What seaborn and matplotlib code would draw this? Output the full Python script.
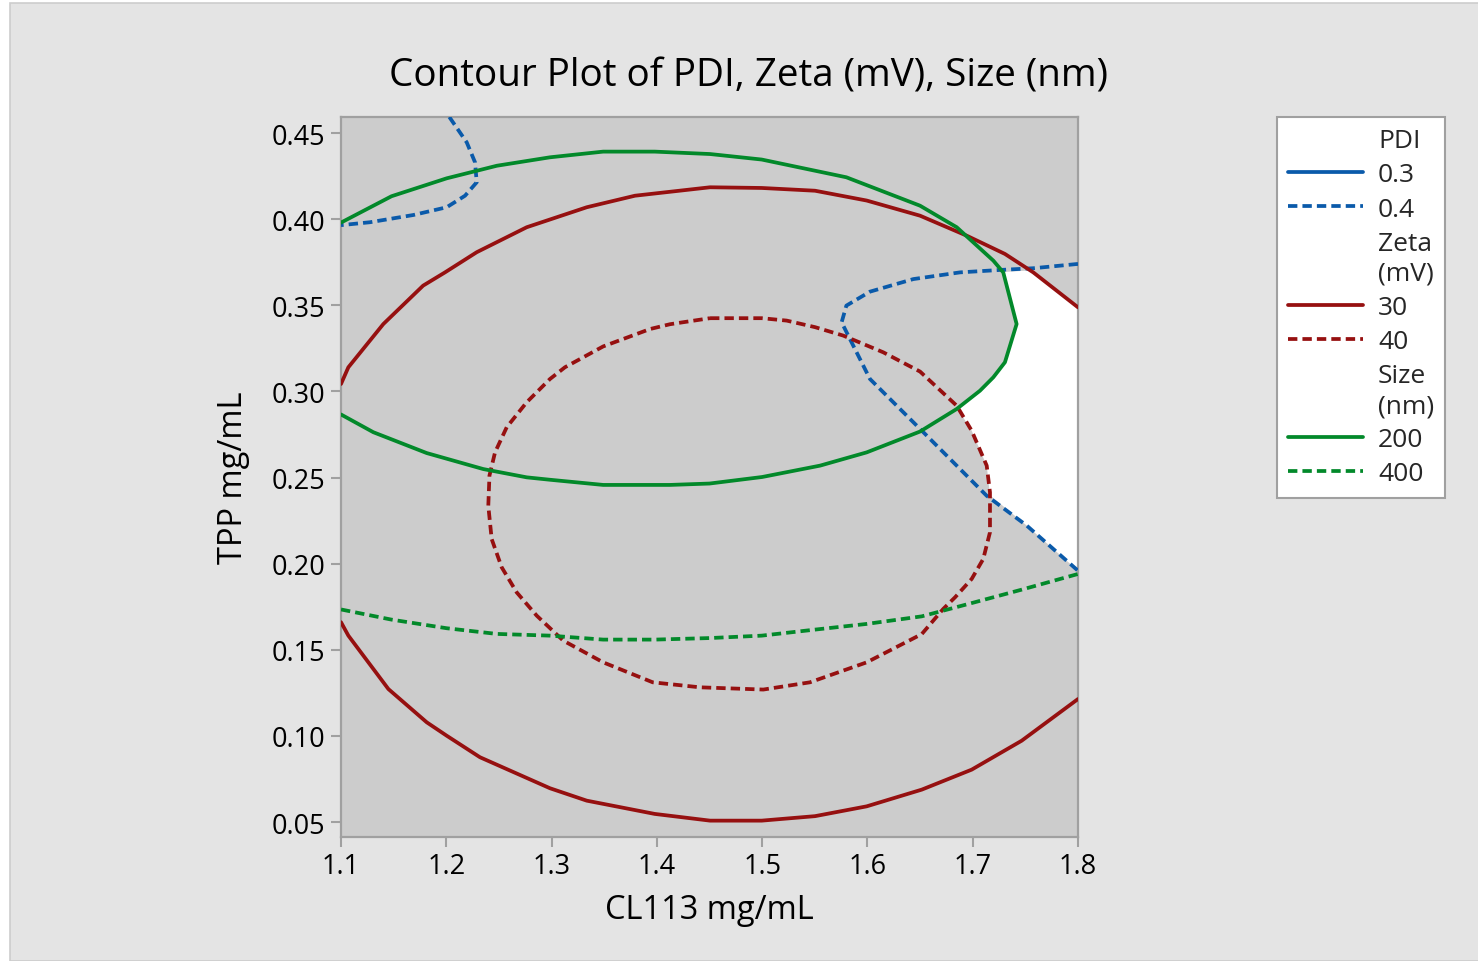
import numpy as np
import pandas as pd
import matplotlib
matplotlib.use("Agg")
import matplotlib.pyplot as plt
from matplotlib.lines import Line2D
from matplotlib.patches import Rectangle
import seaborn as sns

# ---------------- data ----------------
# PDI = 0.4 contour (two pieces)
pdi04_a_x = [1.2029, 1.2194, 1.2273, 1.2289, 1.2178, 1.2004, 1.1687, 1.1275, 1.1000]
pdi04_a_y = [0.4593, 0.4446, 0.4330, 0.4214, 0.4136, 0.4069, 0.4024, 0.3982, 0.3965]
pdi04_b_x = [1.8000, 1.7575, 1.7260, 1.6880, 1.6436, 1.6024, 1.5800, 1.5755, 1.5834,
             1.6024, 1.6500, 1.7133, 1.7513, 1.8000]
pdi04_b_y = [0.3740, 0.3715, 0.3705, 0.3691, 0.3652, 0.3579, 0.3498, 0.3401, 0.3304,
             0.3072, 0.2782, 0.2394, 0.2221, 0.1959]

# Zeta = 30 contour (two pieces)
zeta30_a_x = [1.1000, 1.1070, 1.1402, 1.1780, 1.1988, 1.2289, 1.2764, 1.3334, 1.3792,
              1.4505, 1.4996, 1.5502, 1.5993, 1.6500, 1.6943, 1.7306, 1.7575, 1.8000]
zeta30_a_y = [0.3043, 0.3140, 0.3391, 0.3614, 0.3691, 0.3808, 0.3953, 0.4069, 0.4136,
              0.4185, 0.4181, 0.4165, 0.4108, 0.4020, 0.3904, 0.3798, 0.3691, 0.3488]
zeta30_b_x = [1.1000, 1.1070, 1.1450, 1.1814, 1.2004, 1.2320, 1.2985, 1.3334, 1.3980,
              1.4505, 1.4996, 1.5502, 1.5993, 1.6516, 1.6990, 1.7465, 1.8000]
zeta30_b_y = [0.1660, 0.1582, 0.1272, 0.1079, 0.1001, 0.0876, 0.0696, 0.0624, 0.0547,
              0.0508, 0.0508, 0.0534, 0.0591, 0.0688, 0.0804, 0.0972, 0.1214]

# Zeta = 40 contour (closed)
zeta40_x = [1.4505, 1.4996, 1.5233, 1.5502, 1.5770, 1.6150, 1.6500, 1.6848, 1.6990,
            1.7133, 1.7164, 1.7164, 1.7100, 1.6990, 1.6833, 1.6720, 1.6516, 1.5993,
            1.5454, 1.5011, 1.4409, 1.3961, 1.3490, 1.3111, 1.2859, 1.2669, 1.2526,
            1.2431, 1.2399, 1.2410, 1.2463, 1.2574, 1.2764, 1.2985, 1.3127, 1.3490,
            1.3935, 1.4125, 1.4505]
zeta40_y = [0.3425, 0.3425, 0.3411, 0.3373, 0.3324, 0.3227, 0.3115, 0.2917, 0.2772,
            0.2569, 0.2414, 0.2182, 0.2027, 0.1911, 0.1805, 0.1737, 0.1591, 0.1427,
            0.1311, 0.1269, 0.1282, 0.1311, 0.1427, 0.1553, 0.1698, 0.1833, 0.1979,
            0.2143, 0.2336, 0.2511, 0.2646, 0.2792, 0.2937, 0.3072, 0.3140, 0.3261,
            0.3362, 0.3390, 0.3425]

# Size = 200 contour
size200_x = [1.1000, 1.1480, 1.2004, 1.2480, 1.2985, 1.3490, 1.3980, 1.4505, 1.4996,
             1.5800, 1.6500, 1.6848, 1.7196, 1.7290, 1.7417, 1.7306, 1.7196, 1.7069,
             1.6848, 1.6500, 1.5993, 1.5550, 1.5000, 1.4500, 1.4125, 1.3490, 1.2985,
             1.2764, 1.2352, 1.1814, 1.1307, 1.1000]
size200_y = [0.3980, 0.4133, 0.4237, 0.4310, 0.4359, 0.4392, 0.4392, 0.4378, 0.4346,
             0.4243, 0.4078, 0.3953, 0.3759, 0.3691, 0.3391, 0.3169, 0.3082, 0.3004,
             0.2898, 0.2767, 0.2646, 0.2569, 0.2503, 0.2465, 0.2457, 0.2457, 0.2487,
             0.2501, 0.2549, 0.2642, 0.2763, 0.2866]

# Size = 400 contour
size400_x = [1.1000, 1.1480, 1.2004, 1.2480, 1.2985, 1.3490, 1.3980, 1.4505, 1.4996,
             1.5502, 1.5993, 1.6516, 1.6990, 1.7465, 1.8000]
size400_y = [0.1734, 0.1675, 0.1625, 0.1592, 0.1582, 0.1559, 0.1559, 0.1568, 0.1582,
             0.1617, 0.1650, 0.1694, 0.1771, 0.1849, 0.1940]

# Feasible (white) region boundary
region_x = [1.7290, 1.7544, 1.8000, 1.8000, 1.7513, 1.7164, 1.7133, 1.6990, 1.6848,
            1.7069, 1.7196, 1.7306, 1.7417]
region_y = [0.3693, 0.3702, 0.3488, 0.1959, 0.2221, 0.2397, 0.2569, 0.2772, 0.2908,
            0.3004, 0.3082, 0.3169, 0.3391]

x_ticks = [1.1, 1.2, 1.3, 1.4, 1.5, 1.6, 1.7, 1.8]
y_ticks = [0.05, 0.10, 0.15, 0.20, 0.25, 0.30, 0.35, 0.40, 0.45]

title = "Contour Plot of PDI, Zeta (mV), Size (nm)"
x_label = "CL113 mg/mL"
y_label = "TPP mg/mL"

# ---------------- style ----------------
sns.set_theme(style="white")
FONT = ["Open Sans", "DejaVu Sans"]
plt.rcParams["font.family"] = FONT

BLUE = "#0a5aaa"
RED = "#961010"
GREEN = "#02892a"
SPINE = "#a0a0a0"
LW = 2.7
DASH = (0, (2.5, 1.35))

fig = plt.figure(figsize=(14.78, 9.62), dpi=100, facecolor="white")
fig.patches.append(Rectangle((10 / 1478, 0), 1.0, 1 - 4 / 962, transform=fig.transFigure,
                             facecolor="#e4e4e4", edgecolor="#cdcdcd", linewidth=1.2,
                             zorder=-10))

ax = fig.add_axes([341 / 1478, 1 - 838 / 962, (1078 - 341) / 1478, (838 - 118) / 962])
ax.set_facecolor("#cccccc")

ax.fill(region_x, region_y, color="white", zorder=1, linewidth=0)

curves = [
    (pdi04_a_x, pdi04_a_y, BLUE, DASH),
    (pdi04_b_x, pdi04_b_y, BLUE, DASH),
    (zeta30_a_x, zeta30_a_y, RED, "-"),
    (zeta30_b_x, zeta30_b_y, RED, "-"),
    (zeta40_x, zeta40_y, RED, DASH),
    (size200_x, size200_y, GREEN, "-"),
    (size400_x, size400_y, GREEN, DASH),
]
for cx, cy, col, ls in curves:
    df = pd.DataFrame({"x": cx, "y": cy})
    sns.lineplot(data=df, x="x", y="y", sort=False, estimator=None, color=col,
                 linestyle=ls, linewidth=LW, ax=ax, legend=False, zorder=3)

ax.set_xlim(1.1, 1.8)
ax.set_ylim(0.0413, 0.4593)
ax.set_xticks(x_ticks)
ax.set_xticklabels([f"{v:.1f}" for v in x_ticks])
ax.set_yticks(y_ticks)
ax.set_yticklabels([f"{v:.2f}" for v in y_ticks])

for s in ax.spines.values():
    s.set_color(SPINE)
    s.set_linewidth(1.6)
    s.set_visible(True)
ax.tick_params(axis="both", which="major", direction="out", length=7, width=1.5,
               color=SPINE, labelsize=19.5, labelcolor="black", pad=4)
ax.tick_params(axis="x", bottom=True)
ax.tick_params(axis="y", left=True)

ax.set_xlabel(x_label, fontsize=23.5, color="black", labelpad=9)
ax.set_ylabel(y_label, fontsize=23.5, color="black", labelpad=16)
fig.text((389 + 1108) / 2 / 1478, 1 - 76 / 962, title, fontsize=27.8, color="black",
         ha="center", va="center")

# legend
handles = [
    Line2D([], [], linestyle="none"),
    Line2D([], [], color=BLUE, linestyle="-", linewidth=LW),
    Line2D([], [], color=BLUE, linestyle=DASH, linewidth=LW),
    Line2D([], [], linestyle="none"),
    Line2D([], [], color=RED, linestyle="-", linewidth=LW),
    Line2D([], [], color=RED, linestyle=DASH, linewidth=LW),
    Line2D([], [], linestyle="none"),
    Line2D([], [], color=GREEN, linestyle="-", linewidth=LW),
    Line2D([], [], color=GREEN, linestyle=DASH, linewidth=LW),
]
labels = ["PDI", "0.3", "0.4", "Zeta\n(mV)", "30", "40", "Size\n(nm)", "200", "400"]
leg = fig.legend(handles, labels, loc="upper left",
                 bbox_to_anchor=(1277 / 1478, 1 - 118 / 962), borderaxespad=0,
                 fontsize=19, frameon=True, fancybox=False, framealpha=1,
                 facecolor="white", edgecolor=SPINE, handlelength=2.84,
                 handletextpad=0.57, borderpad=0.42, labelspacing=0.35)
leg.get_frame().set_linewidth(1.5)
for t in leg.get_texts():
    t.set_linespacing(1.25)

fig.savefig("out.png", dpi=100, facecolor=fig.get_facecolor())
